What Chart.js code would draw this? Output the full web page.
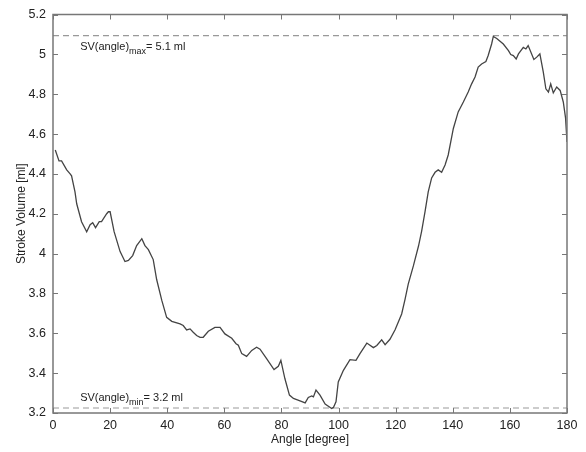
<!DOCTYPE html>
<html>
<head>
<meta charset="utf-8">
<script src="https://cdn.jsdelivr.net/npm/chart.js@4"></script>
<style>
  body { margin: 0; background: #fff; }
  #wrap { width: 586px; height: 452px; }
</style>
</head>
<body>
<div id="wrap"><canvas id="sv-chart" width="586" height="452"></canvas></div>
<script>
const angles = [0.8, 2.1, 3.0, 4.8, 6.0, 6.5, 7.7, 8.3, 10.0, 11.8, 13.0, 13.9, 14.9, 16.2, 17.0, 18.8, 19.4, 20.0,
  21.4, 23.5, 25.2, 26.4, 27.9, 29.3, 31.1, 32.2, 33.4, 35.1, 36.3, 38.1, 39.8, 41.6, 44.5, 45.6, 46.8, 48.0,
  49.1, 50.3, 51.5, 52.6, 54.4, 56.7, 58.5, 60.2, 62.6, 64.1, 64.9, 66.1, 67.8, 69.6, 71.3, 72.5, 74.8, 77.4,
  78.9, 79.8, 81.2, 82.8, 84.2, 86.5, 88.3, 89.4, 90.6, 91.2, 92.1, 93.5, 95.3, 97.6, 98.2, 99.1, 99.9, 101.7,
  104.0, 106.1, 107.5, 109.9, 112.2, 113.4, 115.1, 116.3, 118.0, 119.8, 122.1, 123.3, 124.4, 126.2, 128.0,
  129.1, 130.3, 131.4, 132.6, 133.8, 134.9, 136.1, 137.3, 138.4, 140.2, 141.9, 143.7, 145.4, 146.6, 147.8,
  148.9, 150.1, 151.6, 152.4, 153.6, 154.2, 155.4, 157.7, 159.5, 160.3, 161.2, 162.2, 163.0, 164.7, 165.6,
  166.4, 168.4, 169.4, 170.5, 171.7, 172.6, 173.5, 174.3, 175.2, 176.4, 177.6, 178.7, 179.5, 180.0];
const strokeVolume = [4.52, 4.465, 4.465, 4.42, 4.40, 4.39, 4.31, 4.25, 4.16, 4.11, 4.145, 4.155, 4.13, 4.16, 4.16, 4.20, 4.21, 4.21,
  4.11, 4.01, 3.96, 3.966, 3.99, 4.04, 4.075, 4.04, 4.02, 3.97, 3.87, 3.765, 3.68, 3.66, 3.647, 3.639, 3.617, 3.622,
  3.605, 3.589, 3.58, 3.58, 3.61, 3.63, 3.63, 3.597, 3.575, 3.548, 3.54, 3.498, 3.484, 3.514, 3.53, 3.52, 3.473, 3.418,
  3.434, 3.464, 3.373, 3.29, 3.273, 3.261, 3.251, 3.278, 3.286, 3.281, 3.315, 3.29, 3.245, 3.223, 3.228, 3.256, 3.356, 3.414,
  3.468, 3.464, 3.498, 3.551, 3.528, 3.539, 3.567, 3.543, 3.57, 3.618, 3.697, 3.772, 3.847, 3.938, 4.038,
  4.113, 4.212, 4.31, 4.38, 4.408, 4.42, 4.408, 4.445, 4.495, 4.628, 4.711, 4.761, 4.811, 4.852, 4.886,
  4.936, 4.952, 4.964, 4.994, 5.052, 5.09, 5.08, 5.052, 5.019, 4.999, 4.994, 4.977, 5.002, 5.035, 5.027,
  5.044, 4.974, 4.986, 5.002, 4.911, 4.827, 4.811, 4.852, 4.807, 4.836, 4.819, 4.761, 4.68, 4.56];
const svMax = 5.094;
const svMin = 3.225;
const xTicks = [0, 20, 40, 60, 80, 100, 120, 140, 160, 180];
const yTicks = [3.2, 3.4, 3.6, 3.8, 4, 4.2, 4.4, 4.6, 4.8, 5, 5.2];

const axisColor = "#777";
const textColor = "#222";
const font = "Liberation Sans, Arial, sans-serif";

// matlab-like box with inward ticks + the two annotations
const boxAndNotes = {
  id: 'boxAndNotes',
  afterDraw(chart) {
    const {ctx, chartArea: {left, right, top, bottom}, scales: {x, y}} = chart;
    ctx.save();
    ctx.strokeStyle = axisColor;
    ctx.lineWidth = 1.5;
    ctx.strokeRect(left, top, right - left, bottom - top);
    ctx.lineWidth = 1;
    ctx.beginPath();
    xTicks.forEach(v => {
      const px = Math.round(x.getPixelForValue(v)) + 0.5;
      ctx.moveTo(px, bottom); ctx.lineTo(px, bottom - 5);
      ctx.moveTo(px, top); ctx.lineTo(px, top + 5);
    });
    yTicks.forEach(v => {
      const py = Math.round(y.getPixelForValue(v)) + 0.5;
      ctx.moveTo(left, py); ctx.lineTo(left + 5, py);
      ctx.moveTo(right, py); ctx.lineTo(right - 5, py);
    });
    ctx.stroke();

    const note = (tx, ty, sub, rest) => {
      ctx.fillStyle = textColor;
      ctx.textBaseline = 'alphabetic';
      ctx.font = "11px " + font;
      ctx.fillText("SV(angle)", tx, ty);
      let w = ctx.measureText("SV(angle)").width;
      ctx.font = "9px " + font;
      ctx.fillText(sub, tx + w, ty + 4);
      w += ctx.measureText(sub).width;
      ctx.font = "11px " + font;
      ctx.fillText(rest, tx + w, ty);
    };
    note(x.getPixelForValue(9.5), y.getPixelForValue(svMax) + 14, "max", "= 5.1 ml");
    note(x.getPixelForValue(9.5), y.getPixelForValue(svMin) - 7, "min", "= 3.2 ml");
    ctx.restore();
  }
};

new Chart(document.getElementById("sv-chart"), {
  type: 'line',
  data: {
    datasets: [{
      data: angles.map((a, i) => ({x: a, y: strokeVolume[i]})),
      borderColor: "#444",
      borderWidth: 1.3,
      pointRadius: 0,
      tension: 0
    }, {
      data: [{x: 0, y: svMax}, {x: 180, y: svMax}],
      borderColor: "#999",
      borderWidth: 1.2,
      borderDash: [6, 4],
      pointRadius: 0
    }, {
      data: [{x: 0, y: svMin}, {x: 180, y: svMin}],
      borderColor: "#999",
      borderWidth: 1.2,
      borderDash: [6, 4],
      pointRadius: 0
    }]
  },
  options: {
    responsive: false,
    animation: false,
    layout: { padding: { left: 0, top: 12, right: 19, bottom: 0 } },
    plugins: { legend: { display: false }, tooltip: { enabled: false } },
    scales: {
      x: {
        type: 'linear',
        min: 0, max: 180,
        afterBuildTicks: (s) => { s.ticks = xTicks.map(v => ({value: v})); },
        afterFit: (s) => { s.height = 39; },
        grid: { display: false, drawTicks: false },
        border: { display: false },
        ticks: { color: textColor, font: { family: font, size: 12.5 }, padding: 5, maxRotation: 0 },
        title: { display: true, text: "Angle [degree]", color: textColor, font: { family: font, size: 12 }, padding: { top: 0, bottom: 5 } }
      },
      y: {
        min: 3.2, max: 5.2,
        afterBuildTicks: (s) => { s.ticks = yTicks.map(v => ({value: v})); },
        afterFit: (s) => { s.width = 53; },
        grid: { display: false, drawTicks: false },
        border: { display: false },
        ticks: { color: textColor, font: { family: font, size: 12.5 }, padding: 7,
                 callback: (v) => String(+v.toFixed(1)) },
        title: { display: true, text: "Stroke Volume [ml]", color: textColor, font: { family: font, size: 12 }, padding: { top: 14, bottom: 0 } }
      }
    }
  },
  plugins: [boxAndNotes]
});
</script>
</body>
</html>
